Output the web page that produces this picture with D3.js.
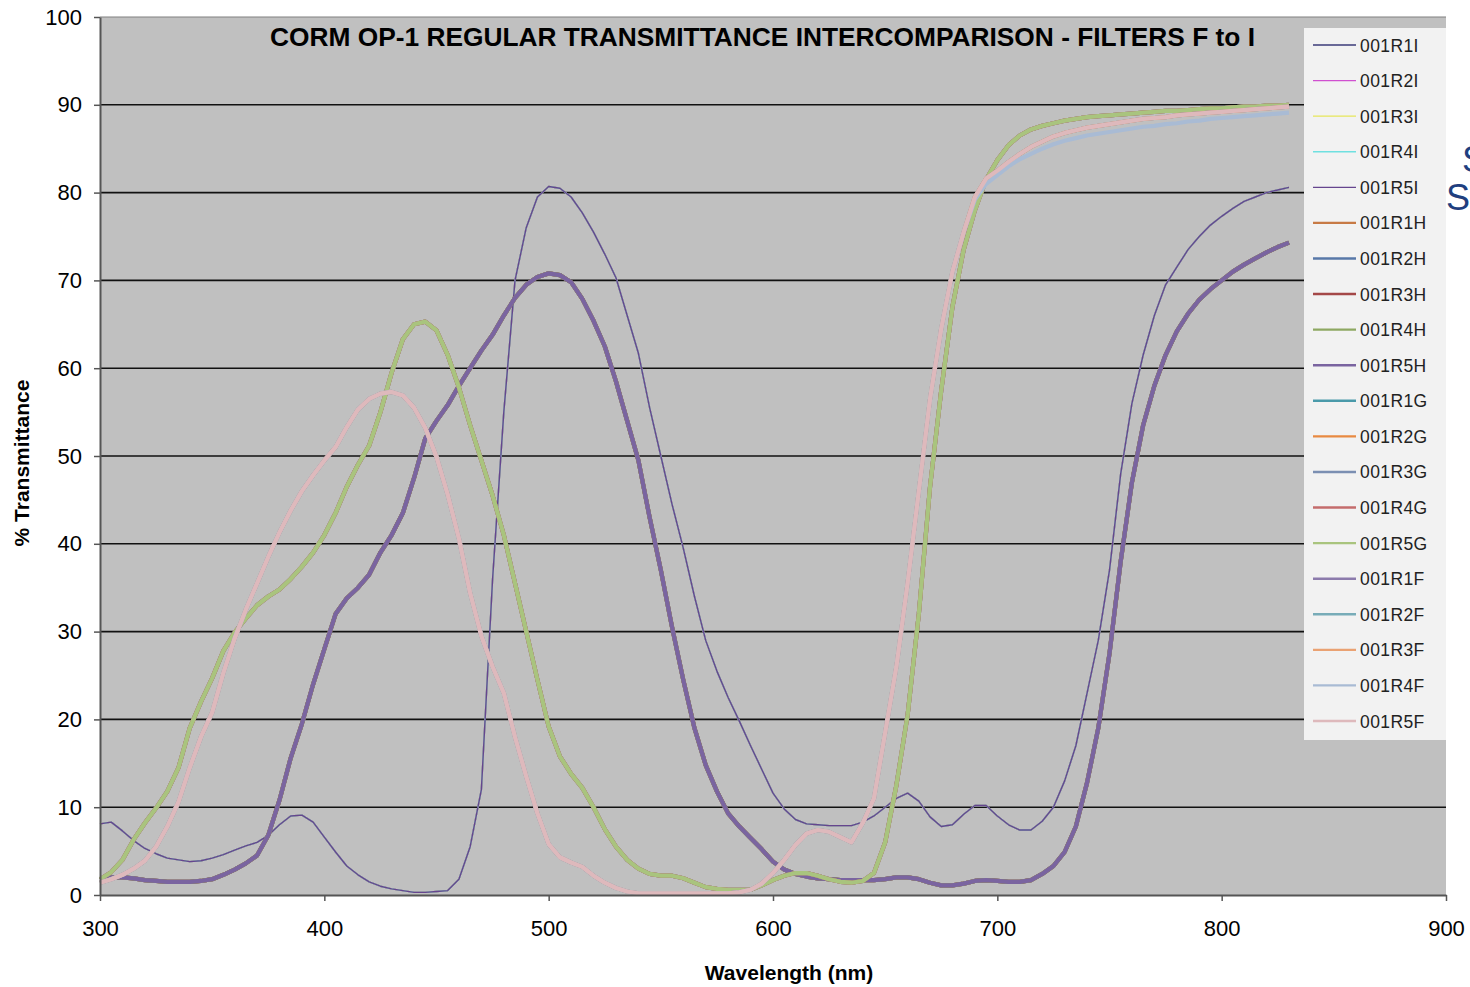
<!DOCTYPE html>
<html>
<head>
<meta charset="utf-8">
<script src="https://cdn.jsdelivr.net/npm/d3@7/dist/d3.min.js"></script>
<style>
  html, body { margin: 0; padding: 0; background: #ffffff; overflow: hidden; }
  svg { display: block; }
</style>
</head>
<body>
<svg id="chart" width="1470" height="987"></svg>
<script>
// Wavelength grid (nm), 5 nm steps
const wavelengths = [
  300,305,310,315,320,325,330,335,340,345,
  350,355,360,365,370,375,380,385,390,395,
  400,405,410,415,420,425,430,435,440,445,
  450,455,460,465,470,475,480,485,490,495,
  500,505,510,515,520,525,530,535,540,545,
  550,555,560,565,570,575,580,585,590,595,
  600,605,610,615,620,625,630,635,640,645,
  650,655,660,665,670,675,680,685,690,695,
  700,705,710,715,720,725,730,735,740,745,
  750,755,760,765,770,775,780,785,790,795,
  800,805,810,815,820,825,830
];

// Filter I regular transmittance (%)
const filterI = [
  8.1,8.3,7.3,6.2,5.3,4.7,4.2,4.0,3.8,3.9,
  4.2,4.6,5.1,5.6,6.0,6.8,8.0,9.0,9.1,8.3,
  6.6,4.9,3.3,2.3,1.5,1.0,0.7,0.5,0.3,0.3,
  0.4,0.5,1.8,5.5,12,36,55,70,76,79.5,
  80.7,80.5,79.5,77.7,75.5,73,70.3,66,61.7,55.5,
  50,44.5,39.5,34,29,25.5,22.5,19.8,17,14.3,
  11.6,9.8,8.6,8.1,8.0,7.9,7.9,7.9,8.3,9.0,
  10.0,11.0,11.6,10.7,8.9,7.8,8.0,9.2,10.2,10.2,
  9.0,8.0,7.4,7.4,8.4,10.0,13,17,23,29,
  37,48,56,61.5,66,69.5,71.5,73.5,75,76.3,
  77.3,78.2,79.0,79.5,80.0,80.3,80.6
];

// Filter H
const filterH = [
  1.8,2.0,2.0,1.9,1.7,1.6,1.5,1.5,1.5,1.6,
  1.8,2.3,2.9,3.6,4.5,6.8,10.8,15.6,19.5,24,
  28,32,33.8,35,36.5,39,41,43.5,47.5,52,
  54,55.8,58,60,62,63.8,66,68,69.5,70.4,
  70.8,70.6,69.8,67.9,65.4,62.5,58.5,54,49.5,43,
  37,30.5,24.5,19,14.8,11.8,9.3,7.8,6.5,5.2,
  3.8,2.9,2.4,2.1,1.9,1.8,1.7,1.7,1.7,1.7,
  1.8,2.0,2.0,1.8,1.4,1.1,1.1,1.3,1.6,1.7,
  1.6,1.5,1.5,1.7,2.4,3.3,4.9,7.8,12.8,19,
  27.5,38,47,53.5,58,61.5,64.2,66.2,67.8,69.0,
  70.0,71.0,71.8,72.5,73.2,73.8,74.3
];

// Filter G
const filterG = [
  1.8,2.6,4.0,6.3,8.2,9.9,11.8,14.5,19,22,
  24.7,27.8,29.9,31.5,33,34,34.8,36,37.4,39,
  41,43.5,46.5,49,51.2,55,59.5,63.3,65,65.3,
  64.3,61.5,57.8,53.5,49.5,45.5,41,35.5,30,24.5,
  19.2,15.8,13.8,12.2,10,7.5,5.5,4.0,3.0,2.4,
  2.2,2.2,1.9,1.4,0.9,0.7,0.6,0.6,0.6,1.1,
  1.7,2.2,2.5,2.5,2.2,1.8,1.5,1.4,1.6,2.5,
  6,12.5,20.5,32,46.5,57.5,67,73.5,78,81.5,
  83.7,85.4,86.5,87.2,87.6,87.9,88.2,88.4,88.6,88.7,
  88.8,88.9,89.0,89.1,89.2,89.3,89.3,89.4,89.5,89.6,
  89.6,89.7,89.8,89.8,89.9,89.9,90.0
];

// Filter F
const filterF = [
  1.4,1.8,2.3,3.0,3.9,5.5,7.8,10.6,14.5,18,
  20.8,25.3,29.2,32.5,35.5,38.5,41.3,43.8,46,47.8,
  49.5,51,53.3,55.3,56.5,57.1,57.3,56.9,55.5,53.2,
  49.9,45.6,40.6,34.4,29.5,26,23,18,13.5,9.3,
  5.8,4.3,3.7,3.2,2.2,1.4,0.8,0.4,0.2,0.2,
  0.2,0.2,0.2,0.2,0.2,0.2,0.2,0.3,0.6,1.3,
  2.5,4.0,5.7,7.0,7.4,7.2,6.6,6.0,8.2,11,
  18.5,26,35.5,46,56.5,64.5,71,75.5,79.5,81.6,
  82.5,83.5,84.4,85.2,85.8,86.4,86.8,87.1,87.4,87.6,
  87.8,88.0,88.2,88.4,88.5,88.6,88.8,88.9,89.0,89.1,
  89.2,89.3,89.4,89.5,89.6,89.7,89.8
];

// Filter F, run 4 (reads slightly low on the plateau)
const filterF4 = [
  1.4,1.8,2.3,3.0,3.9,5.5,7.8,10.6,14.5,18,
  20.8,25.3,29.2,32.5,35.5,38.5,41.3,43.8,46,47.8,
  49.5,51,53.3,55.3,56.5,57.1,57.3,56.9,55.5,53.2,
  49.9,45.6,40.6,34.4,29.5,26,23,18,13.5,9.3,
  5.8,4.3,3.7,3.2,2.2,1.4,0.8,0.4,0.2,0.2,
  0.2,0.2,0.2,0.2,0.2,0.2,0.2,0.3,0.6,1.3,
  2.5,4.0,5.7,7.0,7.4,7.2,6.6,6.0,8.2,11,
  18.5,26,35.5,46,56.5,64.5,71,75.5,79.2,81.0,
  82.0,83.0,83.8,84.4,85.0,85.5,85.9,86.2,86.5,86.7,
  86.9,87.1,87.3,87.5,87.6,87.8,87.9,88.1,88.2,88.4,
  88.5,88.6,88.7,88.8,88.9,89.0,89.1
];

// Series names, colours and the filter each one measures
const seriesNames = [
  "001R1I","001R2I","001R3I","001R4I","001R5I",
  "001R1H","001R2H","001R3H","001R4H","001R5H",
  "001R1G","001R2G","001R3G","001R4G","001R5G",
  "001R1F","001R2F","001R3F","001R4F","001R5F"
];
const seriesColors = [
  "#3b3b78","#d050d0","#e6e65a","#6fe0e0","#66458e",
  "#c77a45","#5878a8","#a44848","#8ea862","#7a64a0",
  "#4a9aaa","#e88a42","#7b8fb2","#c46c6c","#a9c47e",
  "#8c7bac","#78acb8","#eaa273","#a9bbd4","#deb9bc"
];
const seriesValues = [
  filterI, filterI, filterI, filterI, filterI,
  filterH, filterH, filterH, filterH, filterH,
  filterG, filterG, filterG, filterG, filterG,
  filterF, filterF, filterF, filterF4, filterF
];
const xTicks = [300, 400, 500, 600, 700, 800, 900];
const yTicks = [0, 10, 20, 30, 40, 50, 60, 70, 80, 90, 100];

const titleText = "CORM OP-1 REGULAR  TRANSMITTANCE INTERCOMPARISON - FILTERS F to I";

const svg = d3.select("#chart");
const plot = { left: 100, right: 1446, top: 17, bottom: 895 };

const x = d3.scaleLinear().domain([300, 900]).range([plot.left, plot.right]);
const y = d3.scaleLinear().domain([0, 100]).range([plot.bottom, plot.top]);

// Plot background
svg.append("rect")
  .attr("x", plot.left).attr("y", plot.top)
  .attr("width", plot.right - plot.left).attr("height", plot.bottom - plot.top)
  .attr("fill", "#c0c0c0");

// Horizontal gridlines
svg.append("g")
  .selectAll("line")
  .data(yTicks.filter(t => t > 0 && t < 100))
  .join("line")
  .attr("x1", plot.left).attr("x2", plot.right)
  .attr("y1", d => y(d)).attr("y2", d => y(d))
  .attr("stroke", "#111").attr("stroke-width", 1.6);

// Top edge of the plot area
svg.append("line")
  .attr("x1", plot.left).attr("x2", plot.right)
  .attr("y1", y(100)).attr("y2", y(100))
  .attr("stroke", "#808080").attr("stroke-width", 1.2);

// Curves
const line = d3.line()
  .x((d, i) => x(wavelengths[i]))
  .y(d => y(d));

svg.append("g")
  .attr("fill", "none")
  .attr("stroke-linejoin", "round")
  .selectAll("path")
  .data(seriesNames.map((n, i) => ({ name: n, color: seriesColors[i], values: seriesValues[i], thin: i < 5 })))
  .join("path")
  .attr("d", d => line(d.values))
  .attr("stroke", d => d.color)
  .attr("stroke-width", d => d.thin ? 1.4 : 4.2);

// Axes
const fontFamily = "'Liberation Sans', Arial, Helvetica, sans-serif";

const yAxis = svg.append("g")
  .attr("transform", `translate(${plot.left},0)`)
  .call(d3.axisLeft(y).tickValues(yTicks).tickSize(6).tickPadding(12).tickSizeOuter(0));
const xAxis = svg.append("g")
  .attr("transform", `translate(0,${plot.bottom})`)
  .call(d3.axisBottom(x).tickValues(xTicks).tickSize(6).tickPadding(19).tickSizeOuter(0));

[yAxis, xAxis].forEach(g => {
  g.select(".domain").attr("stroke", "#555").attr("stroke-width", 2);
  g.selectAll(".tick line").attr("stroke", "#555").attr("stroke-width", 1.5);
  g.selectAll(".tick text")
    .attr("fill", "#000")
    .style("font-family", fontFamily)
    .style("font-size", "22px");
});

// Axis titles
svg.append("text")
  .attr("transform", `translate(29,463) rotate(-90)`)
  .attr("text-anchor", "middle")
  .style("font-family", fontFamily)
  .style("font-size", "21px")
  .style("font-weight", "bold")
  .text("% Transmittance");

svg.append("text")
  .attr("x", 789).attr("y", 980)
  .attr("text-anchor", "middle")
  .style("font-family", fontFamily)
  .style("font-size", "21px")
  .style("font-weight", "bold")
  .text("Wavelength (nm)");

// Chart title
svg.append("text")
  .attr("x", 270).attr("y", 46)
  .attr("textLength", 985)
  .attr("lengthAdjust", "spacingAndGlyphs")
  .style("font-family", "'Liberation Sans Narrow', 'Arial Narrow', " + fontFamily)
  .style("font-size", "25px")
  .style("font-weight", "bold")
  .text(titleText);

// Legend
const legend = svg.append("g");
legend.append("rect")
  .attr("x", 1304).attr("y", 28)
  .attr("width", 142).attr("height", 712)
  .attr("fill", "#f2f2f2");

const ly = d3.scalePoint().domain(seriesNames).range([45, 721]);
const items = legend.selectAll("g.item")
  .data(seriesNames.map((n, i) => ({ name: n, color: seriesColors[i], thin: i < 5 })))
  .join("g")
  .attr("class", "item")
  .attr("transform", d => `translate(0,${ly(d.name)})`);
items.append("line")
  .attr("x1", 1313).attr("x2", 1356)
  .attr("stroke", d => d.color)
  .attr("stroke-width", d => d.thin ? 1.3 : 2.4);
items.append("text")
  .attr("x", 1360).attr("y", 6.5)
  .style("font-family", fontFamily)
  .style("font-size", "17.5px")
  .style("letter-spacing", "0.4px")
  .attr("fill", "#222")
  .text(d => d.name);

// Text running in from the right-hand edge
svg.append("text")
  .attr("x", 1462).attr("y", 172)
  .attr("fill", "#1f3f7f")
  .style("font-family", fontFamily)
  .style("font-size", "36px")
  .text("S");
svg.append("text")
  .attr("x", 1446).attr("y", 210)
  .attr("fill", "#1f3f7f")
  .style("font-family", fontFamily)
  .style("font-size", "36px")
  .text("S");
</script>
</body>
</html>
